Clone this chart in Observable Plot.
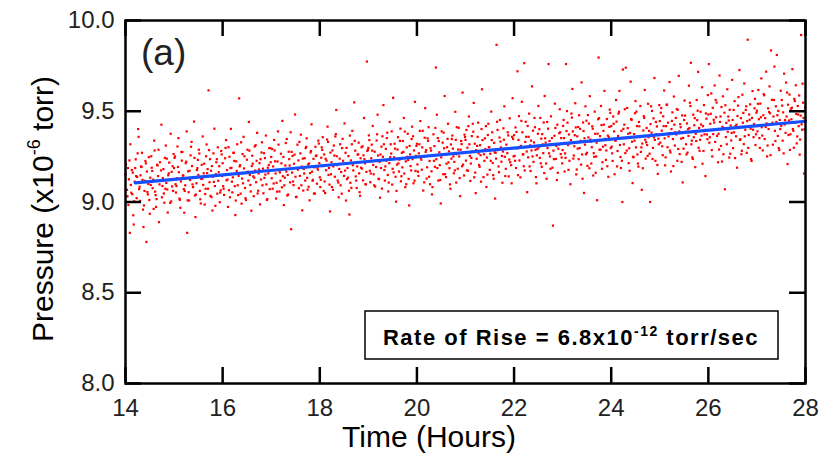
<!DOCTYPE html>
<html><head><meta charset="utf-8">
<script src="https://cdn.jsdelivr.net/npm/d3@7"></script>
<script src="https://cdn.jsdelivr.net/npm/@observablehq/plot@0.6"></script>
<style>
body{margin:0;background:#fff;}
#chart svg{font-family:Arial,"Liberation Sans",sans-serif;}
</style>
</head><body><div id="chart"></div>
<script>
// Measured pressure (x1e-6 torr) vs time (hours) - main readings
const time = [
14.00,14.01,14.03,14.04,14.06,14.07,14.09,14.10,14.11,14.13,14.14,14.16,14.17,14.19,14.20,14.21,14.23,14.24,14.26,14.27,14.29,14.30,14.31,14.33,14.34,14.36,14.37,14.39,14.40,14.41,14.43,14.44,14.46,14.47,14.49,14.50,14.51,14.53,14.54,14.56,14.57,14.59,14.60,14.61,14.63,14.64,14.66,14.67,14.69,14.70,14.71,14.73,14.74,14.76,14.77,14.79,14.80,14.81,14.83,14.84,14.86,14.87,14.89,14.90,14.91,14.93,14.94,14.96,14.97,14.99,
15.00,15.01,15.03,15.04,15.06,15.07,15.09,15.10,15.11,15.13,15.14,15.16,15.17,15.19,15.20,15.21,15.23,15.24,15.26,15.27,15.29,15.30,15.31,15.33,15.34,15.36,15.37,15.39,15.40,15.41,15.43,15.44,15.46,15.47,15.49,15.50,15.51,15.53,15.54,15.56,15.57,15.59,15.60,15.61,15.63,15.64,15.66,15.67,15.69,15.70,15.71,15.73,15.74,15.76,15.77,15.79,15.80,15.81,15.83,15.84,15.86,15.87,15.89,15.90,15.91,15.93,15.94,15.96,15.97,15.99,
16.00,16.01,16.03,16.04,16.06,16.07,16.09,16.10,16.11,16.13,16.14,16.16,16.17,16.19,16.20,16.21,16.23,16.24,16.26,16.27,16.29,16.30,16.31,16.33,16.34,16.36,16.37,16.39,16.40,16.41,16.43,16.44,16.46,16.47,16.49,16.50,16.51,16.53,16.54,16.56,16.57,16.59,16.60,16.61,16.63,16.64,16.66,16.67,16.69,16.70,16.71,16.73,16.74,16.76,16.77,16.79,16.80,16.81,16.83,16.84,16.86,16.87,16.89,16.90,16.91,16.93,16.94,16.96,16.97,16.99,
17.00,17.01,17.03,17.04,17.06,17.07,17.09,17.10,17.11,17.13,17.14,17.16,17.17,17.19,17.20,17.21,17.23,17.24,17.26,17.27,17.29,17.30,17.31,17.33,17.34,17.36,17.37,17.39,17.40,17.41,17.43,17.44,17.46,17.47,17.49,17.50,17.51,17.53,17.54,17.56,17.57,17.59,17.60,17.61,17.63,17.64,17.66,17.67,17.69,17.70,17.71,17.73,17.74,17.76,17.77,17.79,17.80,17.81,17.83,17.84,17.86,17.87,17.89,17.90,17.91,17.93,17.94,17.96,17.97,17.99,
18.00,18.01,18.03,18.04,18.06,18.07,18.09,18.10,18.11,18.13,18.14,18.16,18.17,18.19,18.20,18.21,18.23,18.24,18.26,18.27,18.29,18.30,18.31,18.33,18.34,18.36,18.37,18.39,18.40,18.41,18.43,18.44,18.46,18.47,18.49,18.50,18.51,18.53,18.54,18.56,18.57,18.59,18.60,18.61,18.63,18.64,18.66,18.67,18.69,18.70,18.71,18.73,18.74,18.76,18.77,18.79,18.80,18.81,18.83,18.84,18.86,18.87,18.89,18.90,18.91,18.93,18.94,18.96,18.97,18.99,
19.00,19.01,19.03,19.04,19.06,19.07,19.09,19.10,19.11,19.13,19.14,19.16,19.17,19.19,19.20,19.21,19.23,19.24,19.26,19.27,19.29,19.30,19.31,19.33,19.34,19.36,19.37,19.39,19.40,19.41,19.43,19.44,19.46,19.47,19.49,19.50,19.51,19.53,19.54,19.56,19.57,19.59,19.60,19.61,19.63,19.64,19.66,19.67,19.69,19.70,19.71,19.73,19.74,19.76,19.77,19.79,19.80,19.81,19.83,19.84,19.86,19.87,19.89,19.90,19.91,19.93,19.94,19.96,19.97,19.99,
20.00,20.01,20.03,20.04,20.06,20.07,20.09,20.10,20.11,20.13,20.14,20.16,20.17,20.19,20.20,20.21,20.23,20.24,20.26,20.27,20.29,20.30,20.31,20.33,20.34,20.36,20.37,20.39,20.40,20.41,20.43,20.44,20.46,20.47,20.49,20.50,20.51,20.53,20.54,20.56,20.57,20.59,20.60,20.61,20.63,20.64,20.66,20.67,20.69,20.70,20.71,20.73,20.74,20.76,20.77,20.79,20.80,20.81,20.83,20.84,20.86,20.87,20.89,20.90,20.91,20.93,20.94,20.96,20.97,20.99,
21.00,21.01,21.03,21.04,21.06,21.07,21.09,21.10,21.11,21.13,21.14,21.16,21.17,21.19,21.20,21.21,21.23,21.24,21.26,21.27,21.29,21.30,21.31,21.33,21.34,21.36,21.37,21.39,21.40,21.41,21.43,21.44,21.46,21.47,21.49,21.50,21.51,21.53,21.54,21.56,21.57,21.59,21.60,21.61,21.63,21.64,21.66,21.67,21.69,21.70,21.71,21.73,21.74,21.76,21.77,21.79,21.80,21.81,21.83,21.84,21.86,21.87,21.89,21.90,21.91,21.93,21.94,21.96,21.97,21.99,
22.00,22.01,22.03,22.04,22.06,22.07,22.09,22.10,22.11,22.13,22.14,22.16,22.17,22.19,22.20,22.21,22.23,22.24,22.26,22.27,22.29,22.30,22.31,22.33,22.34,22.36,22.37,22.39,22.40,22.41,22.43,22.44,22.46,22.47,22.49,22.50,22.51,22.53,22.54,22.56,22.57,22.59,22.60,22.61,22.63,22.64,22.66,22.67,22.69,22.70,22.71,22.73,22.74,22.76,22.77,22.79,22.80,22.81,22.83,22.84,22.86,22.87,22.89,22.90,22.91,22.93,22.94,22.96,22.97,22.99,
23.00,23.01,23.03,23.04,23.06,23.07,23.09,23.10,23.11,23.13,23.14,23.16,23.17,23.19,23.20,23.21,23.23,23.24,23.26,23.27,23.29,23.30,23.31,23.33,23.34,23.36,23.37,23.39,23.40,23.41,23.43,23.44,23.46,23.47,23.49,23.50,23.51,23.53,23.54,23.56,23.57,23.59,23.60,23.61,23.63,23.64,23.66,23.67,23.69,23.70,23.71,23.73,23.74,23.76,23.77,23.79,23.80,23.81,23.83,23.84,23.86,23.87,23.89,23.90,23.91,23.93,23.94,23.96,23.97,23.99,
24.00,24.01,24.03,24.04,24.06,24.07,24.09,24.10,24.11,24.13,24.14,24.16,24.17,24.19,24.20,24.21,24.23,24.24,24.26,24.27,24.29,24.30,24.31,24.33,24.34,24.36,24.37,24.39,24.40,24.41,24.43,24.44,24.46,24.47,24.49,24.50,24.51,24.53,24.54,24.56,24.57,24.59,24.60,24.61,24.63,24.64,24.66,24.67,24.69,24.70,24.71,24.73,24.74,24.76,24.77,24.79,24.80,24.81,24.83,24.84,24.86,24.87,24.89,24.90,24.91,24.93,24.94,24.96,24.97,24.99,
25.00,25.01,25.03,25.04,25.06,25.07,25.09,25.10,25.11,25.13,25.14,25.16,25.17,25.19,25.20,25.21,25.23,25.24,25.26,25.27,25.29,25.30,25.31,25.33,25.34,25.36,25.37,25.39,25.40,25.41,25.43,25.44,25.46,25.47,25.49,25.50,25.51,25.53,25.54,25.56,25.57,25.59,25.60,25.61,25.63,25.64,25.66,25.67,25.69,25.70,25.71,25.73,25.74,25.76,25.77,25.79,25.80,25.81,25.83,25.84,25.86,25.87,25.89,25.90,25.91,25.93,25.94,25.96,25.97,25.99,
26.00,26.01,26.03,26.04,26.06,26.07,26.09,26.10,26.11,26.13,26.14,26.16,26.17,26.19,26.20,26.21,26.23,26.24,26.26,26.27,26.29,26.30,26.31,26.33,26.34,26.36,26.37,26.39,26.40,26.41,26.43,26.44,26.46,26.47,26.49,26.50,26.51,26.53,26.54,26.56,26.57,26.59,26.60,26.61,26.63,26.64,26.66,26.67,26.69,26.70,26.71,26.73,26.74,26.76,26.77,26.79,26.80,26.81,26.83,26.84,26.86,26.87,26.89,26.90,26.91,26.93,26.94,26.96,26.97,26.99,
27.00,27.01,27.03,27.04,27.06,27.07,27.09,27.10,27.11,27.13,27.14,27.16,27.17,27.19,27.20,27.21,27.23,27.24,27.26,27.27,27.29,27.30,27.31,27.33,27.34,27.36,27.37,27.39,27.40,27.41,27.43,27.44,27.46,27.47,27.49,27.50,27.51,27.53,27.54,27.56,27.57,27.59,27.60,27.61,27.63,27.64,27.66,27.67,27.69,27.70,27.71,27.73,27.74,27.76,27.77,27.79,27.80,27.81,27.83,27.84,27.86,27.87,27.89,27.90,27.91,27.93,27.94,27.96,27.97,27.99
];
const pressure = [
9.152,9.208,9.067,9.031,8.984,9.125,8.830,9.318,9.094,9.176,
9.043,8.927,8.876,9.112,9.187,9.235,9.021,9.138,9.402,9.359,
9.084,9.006,9.147,9.193,9.271,8.958,8.862,9.061,9.117,9.226,
8.780,9.168,9.042,9.099,9.011,8.935,9.134,9.252,9.189,9.076,
9.123,9.338,9.284,9.057,8.973,9.016,9.201,9.143,8.889,9.097,
9.219,9.174,9.426,9.088,9.132,9.047,8.996,9.243,9.311,9.105,
9.069,8.942,9.158,9.217,9.121,9.376,9.003,9.086,9.197,9.264,
9.187,9.243,9.098,9.052,9.131,9.306,9.352,9.164,9.019,8.968,
9.113,9.228,9.275,9.146,9.071,8.941,9.092,9.214,9.389,8.830,
9.169,9.054,9.008,9.121,9.257,9.331,9.198,9.082,9.137,9.443,
9.036,8.917,9.103,9.176,9.232,9.149,9.288,9.061,9.015,9.127,
9.205,9.361,9.094,9.158,8.986,9.044,9.252,9.317,9.181,9.073,
9.615,9.109,9.236,9.172,9.027,8.953,9.139,9.268,9.404,9.088,
9.153,9.219,9.046,9.301,9.117,9.197,8.999,9.064,9.281,9.143,
9.214,9.087,9.039,9.152,9.298,9.341,9.176,9.124,8.973,9.065,
9.249,9.187,9.403,9.112,9.053,9.136,9.271,9.226,8.928,9.008,
9.171,9.318,9.092,9.144,9.571,9.203,9.046,8.991,9.129,9.264,
9.359,9.185,9.077,9.021,9.162,9.233,9.288,9.118,9.441,9.149,
9.094,8.952,9.198,9.255,9.141,9.032,9.306,9.173,9.109,9.227,
9.381,9.062,9.157,9.214,8.987,9.124,9.273,9.329,9.184,9.048,
9.133,9.242,9.366,9.097,9.011,9.189,9.158,9.297,9.071,9.219,
9.248,9.131,9.073,9.196,9.342,9.284,9.157,9.019,9.106,9.223,
9.389,9.174,9.058,9.117,9.266,9.213,9.447,9.142,8.983,9.092,
9.201,9.325,9.168,9.036,9.149,9.277,9.236,9.108,9.384,8.850,
9.162,9.254,9.093,9.211,9.482,9.139,9.027,9.187,9.316,9.229,
9.076,9.144,9.268,9.371,9.195,8.954,9.063,9.182,9.241,9.118,
9.297,9.351,9.133,9.206,9.084,9.009,9.159,9.273,9.428,9.167,
9.122,9.238,9.191,9.046,9.304,9.257,9.101,9.178,9.338,9.214,
9.136,9.082,9.244,9.301,9.357,9.198,9.262,9.113,9.049,9.175,
9.228,9.415,9.331,9.187,9.096,8.948,9.153,9.219,9.284,9.067,
9.311,9.256,9.139,9.374,9.507,9.203,9.118,9.026,9.182,9.239,
9.092,9.165,9.297,9.348,9.211,9.144,9.433,9.271,9.008,9.126,
9.187,9.253,9.062,8.931,9.106,9.229,9.318,9.392,9.174,9.215,
9.549,9.283,9.141,9.077,9.196,9.262,9.327,9.158,9.034,9.241,
9.302,9.184,9.119,9.257,9.463,9.213,9.098,9.166,9.774,9.288,
9.298,9.367,9.172,9.109,9.241,9.316,9.419,9.204,9.153,9.277,
9.085,9.193,9.339,9.481,9.256,9.128,9.221,9.024,9.187,9.305,
9.362,9.249,9.534,9.176,9.118,9.293,9.227,9.382,9.149,9.058,
9.214,9.441,9.318,9.267,9.096,9.183,9.574,9.246,9.321,9.139,
9.002,9.206,9.289,9.357,9.168,9.233,9.404,9.114,9.271,9.191,
9.336,9.463,9.157,9.082,9.224,9.301,9.249,9.376,9.127,8.981,
9.262,9.198,9.347,9.415,9.236,9.103,9.284,9.552,9.171,9.309,
9.321,9.207,9.144,9.268,9.392,9.446,9.233,9.178,9.301,9.063,
9.248,9.354,9.517,9.286,9.129,9.191,9.337,9.412,9.226,9.098,
9.283,9.169,9.042,9.257,9.373,9.308,9.194,9.741,9.236,9.481,
9.352,9.118,9.274,9.203,8.992,9.246,9.389,9.327,9.153,9.296,
9.584,9.262,9.137,9.211,9.348,9.431,9.279,9.186,9.073,9.317,
9.239,9.366,9.294,9.158,9.221,9.497,9.342,9.107,9.264,9.183,
9.409,9.251,9.032,9.288,9.336,9.197,9.603,9.273,9.146,9.358,
9.342,9.228,9.175,9.299,9.418,9.471,9.254,9.116,9.212,9.363,
9.279,9.387,9.546,9.321,9.162,9.049,9.238,9.309,9.437,9.268,
9.194,9.313,9.258,9.402,9.621,9.284,9.137,9.227,9.351,9.292,
9.083,9.245,9.369,9.431,9.302,9.177,9.266,9.498,9.341,9.215,
9.148,9.326,9.274,9.019,9.239,9.866,9.397,9.286,9.164,9.355,
9.452,9.301,9.222,9.106,9.278,9.343,9.527,9.249,9.183,9.316,
9.269,9.384,9.141,9.234,9.461,9.297,9.203,9.359,9.572,9.251,
9.368,9.254,9.411,9.187,9.296,9.720,9.342,9.473,9.229,9.136,
9.309,9.552,9.384,9.263,9.197,9.765,9.331,9.442,9.278,9.054,
9.246,9.359,9.487,9.312,9.171,9.284,9.637,9.393,9.221,9.328,
9.412,9.288,9.103,9.257,9.376,9.529,9.301,9.243,9.463,9.349,
9.194,9.317,9.269,9.438,9.584,9.351,9.212,9.128,9.297,9.404,
9.760,9.336,9.251,9.472,9.318,9.189,8.870,9.283,9.365,9.542,
9.237,9.308,9.426,9.161,9.294,9.379,9.511,9.264,9.352,9.213,
9.286,9.419,9.352,9.168,9.243,9.760,9.501,9.437,9.314,9.372,
9.227,9.098,9.341,9.465,9.623,9.389,9.256,9.307,9.544,9.411,
9.179,9.362,9.294,9.236,9.478,9.403,9.337,9.659,9.262,9.128,
9.391,9.050,9.316,9.527,9.448,9.271,9.199,9.356,9.432,9.583,
9.344,9.212,9.302,9.417,9.146,9.269,9.498,9.376,9.251,9.327,
9.010,9.456,9.796,9.288,9.363,9.529,9.424,9.183,9.305,9.392,
9.612,9.348,9.232,9.284,9.457,9.366,9.139,9.414,9.509,9.297,
9.418,9.305,9.226,9.471,9.389,9.153,9.337,9.562,9.443,9.281,
9.364,9.497,9.612,9.248,9.187,9.392,9.000,9.730,9.318,9.426,
9.269,9.740,9.353,9.518,9.407,9.214,9.296,9.381,9.663,9.457,
9.332,9.104,9.247,9.374,9.489,9.556,9.301,9.418,9.262,9.195,
9.441,9.358,9.529,9.276,9.067,9.322,9.394,9.473,9.617,9.343,
9.239,9.408,9.314,9.541,9.357,9.266,9.000,9.429,9.382,9.502,
9.298,9.461,9.683,9.342,9.227,9.374,9.416,9.155,9.349,9.534,
9.446,9.327,9.518,9.393,9.258,9.472,9.614,9.351,9.202,9.418,
9.536,9.302,9.437,9.379,9.661,9.283,9.168,9.402,9.494,9.347,
9.581,9.426,9.311,9.463,9.372,9.227,9.508,9.695,9.389,9.264,
9.412,9.349,9.477,9.108,9.294,9.452,9.559,9.386,9.318,9.433,
9.272,9.364,9.641,9.407,9.529,9.767,9.338,9.246,9.481,9.357,
9.423,9.192,9.376,9.562,9.451,9.717,9.299,9.408,9.343,9.497,
9.366,9.632,9.418,9.281,9.534,9.397,9.143,9.459,9.372,9.589,
9.482,9.760,9.357,9.431,9.598,9.286,9.519,9.374,9.453,9.642,
9.331,9.467,9.548,9.402,9.219,9.376,9.697,9.441,9.309,9.523,
9.414,9.582,9.263,9.492,9.070,9.358,9.436,9.621,9.387,9.471,
9.245,9.508,9.421,9.339,9.673,9.452,9.297,9.384,9.556,9.418,
9.362,9.189,9.474,9.531,9.408,9.727,9.346,9.462,9.282,9.591,
9.437,9.319,9.653,9.398,9.507,9.271,9.446,9.894,9.369,9.482,
9.538,9.404,9.226,9.463,9.611,9.357,9.429,9.568,9.314,9.492,
9.503,9.389,9.617,9.456,9.298,9.542,9.681,9.412,9.366,9.478,
9.594,9.347,9.462,9.718,9.433,9.251,9.516,9.402,9.637,9.489,
9.835,9.428,9.563,9.316,9.471,9.746,9.392,9.527,9.441,9.810,
9.364,9.502,9.286,9.452,9.613,9.419,9.562,9.338,9.494,9.707,
9.427,9.381,9.658,9.471,9.209,9.536,9.449,9.592,9.373,9.514,
9.456,9.732,9.402,9.299,9.568,9.437,9.643,9.485,9.361,9.529,
9.418,9.587,9.344,9.476,9.920,9.398,9.652,9.463,9.157,9.521
];
// Interleaved readings between the main ones
const timeB = [
14.02,14.05,14.08,14.12,14.15,14.18,14.22,14.25,14.28,14.32,14.35,14.38,14.42,14.45,14.48,14.52,14.55,14.58,14.62,14.65,14.68,14.72,14.75,14.78,14.82,14.85,14.88,14.92,14.95,14.98,
15.02,15.05,15.08,15.12,15.15,15.18,15.22,15.25,15.28,15.32,15.35,15.38,15.42,15.45,15.48,15.52,15.55,15.58,15.62,15.65,15.68,15.72,15.75,15.78,15.82,15.85,15.88,15.92,15.95,15.98,
16.02,16.05,16.08,16.12,16.15,16.18,16.22,16.25,16.28,16.32,16.35,16.38,16.42,16.45,16.48,16.52,16.55,16.58,16.62,16.65,16.68,16.72,16.75,16.78,16.82,16.85,16.88,16.92,16.95,16.98,
17.02,17.05,17.08,17.12,17.15,17.18,17.22,17.25,17.28,17.32,17.35,17.38,17.42,17.45,17.48,17.52,17.55,17.58,17.62,17.65,17.68,17.72,17.75,17.78,17.82,17.85,17.88,17.92,17.95,17.98,
18.02,18.05,18.08,18.12,18.15,18.18,18.22,18.25,18.28,18.32,18.35,18.38,18.42,18.45,18.48,18.52,18.55,18.58,18.62,18.65,18.68,18.72,18.75,18.78,18.82,18.85,18.88,18.92,18.95,18.98,
19.02,19.05,19.08,19.12,19.15,19.18,19.22,19.25,19.28,19.32,19.35,19.38,19.42,19.45,19.48,19.52,19.55,19.58,19.62,19.65,19.68,19.72,19.75,19.78,19.82,19.85,19.88,19.92,19.95,19.98,
20.02,20.05,20.08,20.12,20.15,20.18,20.22,20.25,20.28,20.32,20.35,20.38,20.42,20.45,20.48,20.52,20.55,20.58,20.62,20.65,20.68,20.72,20.75,20.78,20.82,20.85,20.88,20.92,20.95,20.98,
21.02,21.05,21.08,21.12,21.15,21.18,21.22,21.25,21.28,21.32,21.35,21.38,21.42,21.45,21.48,21.52,21.55,21.58,21.62,21.65,21.68,21.72,21.75,21.78,21.82,21.85,21.88,21.92,21.95,21.98,
22.02,22.05,22.08,22.12,22.15,22.18,22.22,22.25,22.28,22.32,22.35,22.38,22.42,22.45,22.48,22.52,22.55,22.58,22.62,22.65,22.68,22.72,22.75,22.78,22.82,22.85,22.88,22.92,22.95,22.98,
23.02,23.05,23.08,23.12,23.15,23.18,23.22,23.25,23.28,23.32,23.35,23.38,23.42,23.45,23.48,23.52,23.55,23.58,23.62,23.65,23.68,23.72,23.75,23.78,23.82,23.85,23.88,23.92,23.95,23.98,
24.02,24.05,24.08,24.12,24.15,24.18,24.22,24.25,24.28,24.32,24.35,24.38,24.42,24.45,24.48,24.52,24.55,24.58,24.62,24.65,24.68,24.72,24.75,24.78,24.82,24.85,24.88,24.92,24.95,24.98,
25.02,25.05,25.08,25.12,25.15,25.18,25.22,25.25,25.28,25.32,25.35,25.38,25.42,25.45,25.48,25.52,25.55,25.58,25.62,25.65,25.68,25.72,25.75,25.78,25.82,25.85,25.88,25.92,25.95,25.98,
26.02,26.05,26.08,26.12,26.15,26.18,26.22,26.25,26.28,26.32,26.35,26.38,26.42,26.45,26.48,26.52,26.55,26.58,26.62,26.65,26.68,26.72,26.75,26.78,26.82,26.85,26.88,26.92,26.95,26.98,
27.02,27.05,27.08,27.12,27.15,27.18,27.22,27.25,27.28,27.32,27.35,27.38,27.42,27.45,27.48,27.52,27.55,27.58,27.62,27.65,27.68,27.72,27.75,27.78,27.82,27.85,27.88,27.92,27.95,27.98
];
const pressureB = [
9.032,9.187,9.229,9.051,9.162,9.004,9.143,9.268,9.071,9.196,9.122,8.981,9.213,9.055,9.247,9.094,9.171,8.962,9.038,9.205,9.288,9.117,9.026,9.181,9.073,9.239,9.147,8.995,9.166,9.061,
9.251,9.088,9.193,9.012,9.276,9.146,9.061,9.222,9.009,9.172,9.304,9.097,9.243,9.041,9.187,9.267,8.992,9.128,9.211,9.073,9.159,9.286,9.034,9.198,9.111,8.979,9.236,9.164,9.052,9.262,
9.073,9.241,9.119,9.302,9.026,9.188,9.271,9.087,9.224,9.038,9.196,9.329,9.103,9.252,9.011,9.167,9.283,9.058,9.211,9.134,9.313,9.047,9.179,9.236,9.092,9.269,9.151,9.016,9.204,9.297,
9.292,9.102,9.224,9.057,9.316,9.163,9.081,9.248,9.134,9.347,9.041,9.201,9.276,9.113,9.261,9.029,9.178,9.331,9.092,9.239,9.157,9.304,9.068,9.212,9.281,9.117,9.047,9.253,9.189,9.322,
9.122,9.287,9.061,9.238,9.344,9.149,9.272,9.083,9.196,9.361,9.252,9.107,9.318,9.046,9.227,9.173,9.298,9.134,9.366,9.078,9.203,9.337,9.118,9.262,9.054,9.189,9.307,9.236,9.097,9.281,
9.341,9.157,9.283,9.092,9.228,9.373,9.126,9.262,9.074,9.318,9.196,9.352,9.107,9.247,9.389,9.163,9.294,9.061,9.213,9.337,9.142,9.276,9.388,9.098,9.231,9.309,9.174,9.362,9.118,9.254,
9.167,9.318,9.243,9.392,9.108,9.276,9.351,9.139,9.296,9.082,9.227,9.408,9.187,9.336,9.121,9.264,9.382,9.153,9.302,9.218,9.097,9.347,9.251,9.174,9.412,9.289,9.132,9.319,9.206,9.371,
9.397,9.172,9.318,9.243,9.431,9.136,9.286,9.359,9.204,9.112,9.341,9.263,9.418,9.151,9.302,9.227,9.384,9.128,9.271,9.442,9.196,9.333,9.254,9.406,9.143,9.292,9.367,9.219,9.103,9.348,
9.227,9.386,9.148,9.301,9.447,9.262,9.174,9.359,9.419,9.196,9.338,9.251,9.463,9.137,9.292,9.401,9.213,9.374,9.159,9.327,9.441,9.268,9.183,9.352,9.236,9.408,9.121,9.317,9.384,9.245,
9.452,9.268,9.391,9.177,9.324,9.487,9.239,9.368,9.152,9.413,9.297,9.206,9.438,9.351,9.263,9.479,9.186,9.332,9.404,9.249,9.161,9.376,9.462,9.288,9.219,9.426,9.313,9.197,9.357,9.491,
9.268,9.431,9.342,9.196,9.487,9.314,9.227,9.403,9.511,9.283,9.376,9.172,9.452,9.249,9.338,9.498,9.212,9.417,9.301,9.186,9.463,9.329,9.254,9.392,9.527,9.237,9.356,9.441,9.204,9.318,
9.492,9.307,9.418,9.246,9.536,9.361,9.273,9.447,9.198,9.384,9.512,9.292,9.429,9.221,9.353,9.476,9.262,9.401,9.547,9.318,9.237,9.462,9.336,9.503,9.282,9.427,9.211,9.373,9.488,9.346,
9.327,9.486,9.251,9.438,9.562,9.364,9.289,9.471,9.223,9.406,9.533,9.318,9.449,9.266,9.381,9.507,9.242,9.426,9.578,9.342,9.263,9.491,9.362,9.527,9.298,9.453,9.236,9.398,9.516,9.373,
9.541,9.352,9.467,9.284,9.588,9.413,9.311,9.496,9.258,9.437,9.562,9.336,9.478,9.297,9.402,9.531,9.268,9.451,9.603,9.369,9.287,9.519,9.392,9.556,9.323,9.482,9.261,9.428,9.547,9.401
];
// Linear fit (rate of rise)
const fitTime = [14.2, 28.0];
const fitPressure = [9.105, 9.445];
// Axes
const xTicks = [14, 16, 18, 20, 22, 24, 26, 28];
const yTicks = [8.0, 8.5, 9.0, 9.5, 10.0];

const points = time.map((t, i) => ({t, p: pressure[i]}))
  .concat(timeB.map((t, i) => ({t, p: pressureB[i]})));
const fit = fitTime.map((t, i) => ({t, p: fitPressure[i]}));

const W = 819, H = 453, mL = 125, mR = 14, mT = 20, mB = 70;
const innerW = W - mL - mR, innerH = H - mT - mB, tk = 16;
const font = 'Arial, "Liberation Sans", sans-serif';

const chart = Plot.plot({
  width: W, height: H,
  marginLeft: mL, marginRight: mR, marginTop: mT, marginBottom: mB,
  style: {fontFamily: font, background: "#fff", overflow: "visible"},
  x: {domain: [14, 28]},
  y: {domain: [8, 10]},
  marks: [
    Plot.dot(points, {x: "t", y: "p", symbol: "square", r: 1.25, fill: "#ff0000", stroke: "none"}),
    Plot.line(fit, {x: "t", y: "p", stroke: "#1450ff", strokeWidth: 3.2}),
    Plot.tickX(xTicks, {x: d => d, insetTop: innerH - tk, stroke: "#000", strokeWidth: 2.5}),
    Plot.tickX(xTicks, {x: d => d, insetBottom: innerH - tk, stroke: "#000", strokeWidth: 2.5}),
    Plot.tickY(yTicks, {y: d => d, insetRight: innerW - tk, stroke: "#000", strokeWidth: 2.5}),
    Plot.tickY(yTicks, {y: d => d, insetLeft: innerW - tk, stroke: "#000", strokeWidth: 2.5}),
    Plot.axisX(xTicks, {anchor: "bottom", tickSize: 0, tickPadding: 15, fontSize: 24, fill: "#222", label: null}),
    Plot.axisY(yTicks, {anchor: "left", tickSize: 0, tickPadding: 11, fontSize: 24, fill: "#222", label: null, tickFormat: d3.format(".1f")}),
    Plot.frame({stroke: "#000", strokeWidth: 2.5})
  ]
});
document.getElementById("chart").appendChild(chart);

const svg = d3.select(chart);
// panel label
svg.append("text").attr("x", 141).attr("y", 65).attr("text-anchor", "start")
  .attr("font-size", 37).attr("fill", "#222").text("(a)");
// y title
const yt = svg.append("text").attr("transform", "translate(53,209) rotate(-90)")
  .attr("text-anchor", "middle").attr("font-size", 30).attr("fill", "#000");
yt.append("tspan").text("Pressure (x10");
yt.append("tspan").attr("dy", -13).attr("font-size", 18).text("-6");
yt.append("tspan").attr("dy", 13).text(" torr)");
// x title
svg.append("text").attr("x", 429).attr("y", 447).attr("text-anchor", "middle")
  .attr("font-size", 30).attr("fill", "#000").text("Time (Hours)");
// annotation box
svg.append("rect").attr("x", 365).attr("y", 311).attr("width", 413).attr("height", 48)
  .attr("fill", "#fff").attr("stroke", "#000").attr("stroke-width", 1.5);
const bt = svg.append("text").attr("x", 571).attr("y", 345).attr("text-anchor", "middle")
  .attr("font-size", 22).attr("font-weight", "bold").attr("letter-spacing", 1.5).attr("fill", "#000");
bt.append("tspan").text("Rate of Rise = 6.8x10");
bt.append("tspan").attr("dy", -9).attr("font-size", 14).text("-12");
bt.append("tspan").attr("dy", 9).text(" torr/sec");
</script>
</body></html>
